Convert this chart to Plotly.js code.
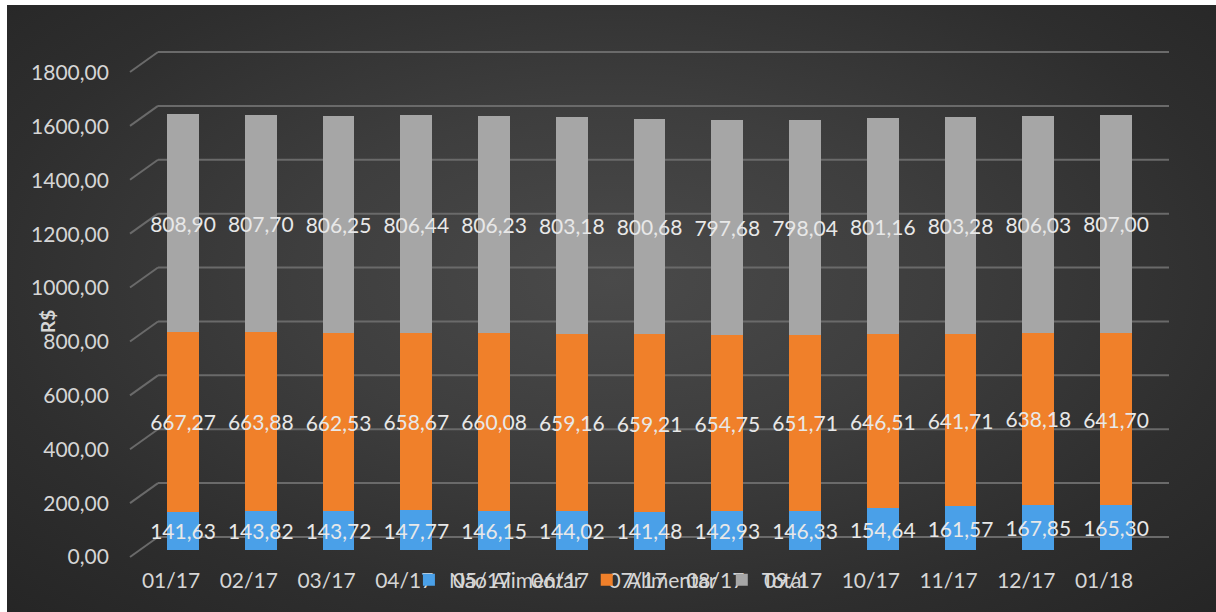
<!DOCTYPE html>
<html>
<head>
<meta charset="utf-8">
<script src="https://cdn.plot.ly/plotly-3.0.1.min.js"></script>
<style>
  html, body { margin: 0; padding: 0; background: #ffffff; width: 1216px; height: 612px; overflow: hidden; }
  #bg { position: absolute; left: 7px; top: 5px; width: 1209px; height: 607px;
        background: radial-gradient(ellipse 75% 80% at 50% 45%, #4a4a4a 0%, #3e3e3e 35%, #2e2e2e 70%, #242424 100%); }
  #chart { position: absolute; left: 0; top: 0; width: 1216px; height: 612px; }
</style>
</head>
<body>
<div id="bg"></div>
<div id="chart"></div>
<script>
const categories = ['01/17','02/17','03/17','04/17','05/17','06/17','07/17','08/17','09/17','10/17','11/17','12/17','01/18'];
const naoAlimentar = [141.63,143.82,143.72,147.77,146.15,144.02,141.48,142.93,146.33,154.64,161.57,167.85,165.30];
const alimentar    = [667.27,663.88,662.53,658.67,660.08,659.16,659.21,654.75,651.71,646.51,641.71,638.18,641.70];
const total        = [808.90,807.70,806.25,806.44,806.23,803.18,800.68,797.68,798.04,801.16,803.28,806.03,807.00];
const seriesNames  = ['Não Alimentar','Alimentar','Total'];
const yTicks       = [0,200,400,600,800,1000,1200,1400,1600,1800];
const yTitle       = 'R$';

const colors = ['#4aa0e8','#f0802a','#a6a6a6'];
const FONT = 'Lato, "Open Sans", sans-serif';
const labelColor = '#d6d6d6';

const seriesValues = [naoAlimentar, alimentar, total];
const traces = seriesValues.map((vals, i) => ({
  type: 'bar',
  name: seriesNames[i],
  x: categories,
  y: vals,
  xaxis: 'x', yaxis: 'y',
  marker: { color: colors[i], line: { width: 0 } },
  texttemplate: '%{y:.2f}',
  textposition: 'inside',
  insidetextanchor: 'middle',
  constraintext: 'none',
  textangle: 0,
  cliponaxis: false,
  textfont: { family: FONT, size: 21, color: '#e8e8e8' },
  hoverinfo: 'x+y+name'
}));

// empty helper trace so the label subplot exists
traces.push({ type: 'scatter', x: [], y: [], xaxis: 'x2', yaxis: 'y2', showlegend: false, hoverinfo: 'skip' });

const W = 1216, H = 612;
const px = v => v / W;
const py = v => (H - v) / H;

// 3D-looking grid: back horizontal lines and oblique connectors, anchored at tick values
const shapes = [];
yTicks.forEach(v => {
  shapes.push({ type: 'line', layer: 'below', xref: 'paper', yref: 'y', ysizemode: 'pixel', yanchor: v,
    x0: px(158), x1: px(1169), y0: 13, y1: 13, line: { color: '#6a6a6a', width: 2 } });
  shapes.push({ type: 'line', layer: 'below', xref: 'paper', yref: 'y', ysizemode: 'pixel', yanchor: v,
    x0: px(130), x1: px(158), y0: -7, y1: 13, line: { color: '#6a6a6a', width: 2 } });
});

const layout = {
  width: W, height: H,
  paper_bgcolor: 'rgba(0,0,0,0)',
  plot_bgcolor: 'rgba(0,0,0,0)',
  margin: { l: 0, r: 0, t: 0, b: 0 },
  separators: ',.',
  barmode: 'stack',
  bargap: 0.59,
  showlegend: true,
  font: { family: FONT, color: labelColor },
  xaxis: { domain: [px(144.125), px(1154.875)], range: [-0.5, 12.5], anchor: 'y',
           showticklabels: false, showgrid: false, zeroline: false, showline: false, ticks: '', fixedrange: true },
  yaxis: { domain: [py(558.08), py(48.83)], range: [-30, 1860], anchor: 'x',
           showticklabels: false, showgrid: false, zeroline: false, showline: false, ticks: '', fixedrange: true },
  xaxis2: { domain: [px(132.125), px(1142.875)], range: [-0.5, 12.5], anchor: 'y2',
            tickmode: 'array', tickvals: categories.map((c, i) => i), ticktext: categories,
            ticks: 'outside', ticklen: 5, tickcolor: 'rgba(0,0,0,0)',
            showgrid: false, zeroline: false, showline: false,
            tickfont: { family: FONT, size: 21, color: labelColor } },
  yaxis2: { domain: [py(557), py(73)], range: [0, 1800], anchor: 'x2',
            tickmode: 'array', tickvals: yTicks, tickformat: '.2f',
            ticks: 'outside', ticklen: 18, tickcolor: 'rgba(0,0,0,0)',
            showgrid: false, zeroline: false, showline: false,
            tickfont: { family: FONT, size: 21, color: labelColor } },
  annotations: [{
    text: yTitle, xref: 'paper', yref: 'paper', x: px(47), y: py(322),
    xanchor: 'center', yanchor: 'middle', textangle: -90, showarrow: false,
    font: { family: FONT, size: 19, color: labelColor, weight: 'bold' }
  }],
  legend: { orientation: 'h', x: 0.502, xanchor: 'center', y: py(580), yanchor: 'middle',
            traceorder: 'normal', bgcolor: 'rgba(0,0,0,0)',
            font: { family: FONT, size: 21, color: labelColor } },
  shapes: shapes
};

Plotly.newPlot('chart', traces, layout, { displayModeBar: false, staticPlot: true });
</script>
</body>
</html>
